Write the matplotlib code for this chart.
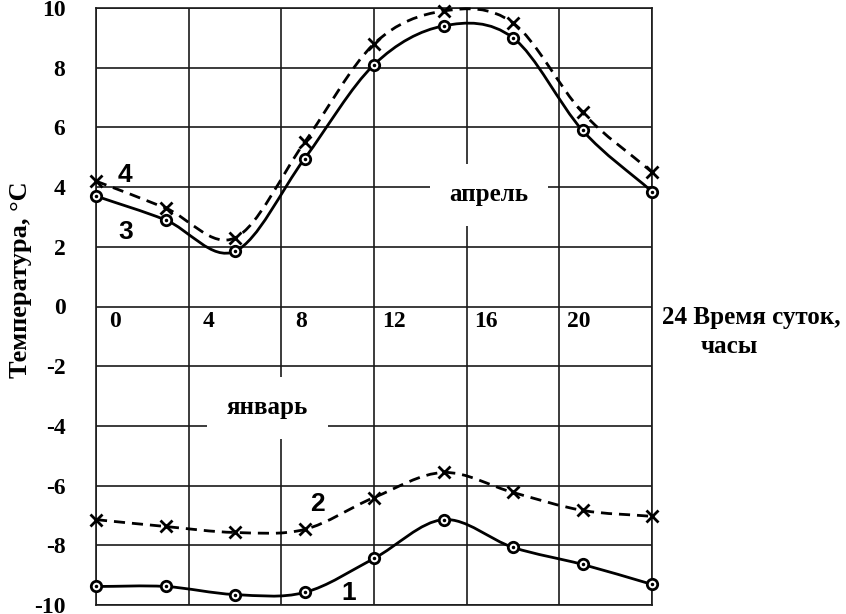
import matplotlib
matplotlib.use("Agg")
import matplotlib.pyplot as plt
import numpy as np
from matplotlib.path import Path
from matplotlib.patches import PathPatch

plt.rcParams['font.family'] = ['Liberation Serif', 'DejaVu Serif']
plt.rcParams['font.weight'] = 'bold'

# часы суток
hours = [0, 3, 6, 9, 12, 15, 18, 21, 24]
# январь
jan_1 = [-9.38, -9.38, -9.65, -9.58, -8.44, -7.14, -8.07, -8.64, -9.31]
jan_2 = [-7.14, -7.37, -7.57, -7.47, -6.40, -5.56, -6.23, -6.83, -7.03]
# апрель
apr_3 = [3.7, 2.9, 1.85, 4.95, 8.1, 9.4, 9.0, 5.9, 3.85]
apr_4 = [4.2, 3.3, 2.3, 5.5, 8.8, 9.9, 9.5, 6.5, 4.5]

x_ticks = [0, 4, 8, 12, 16, 20]
y_ticks = [10, 8, 6, 4, 2, 0, -2, -4, -6, -8, -10]


def smooth_path(xs, ys):
    # Catmull-Rom -> Bezier, чтобы кривая шла через точки
    p = np.column_stack([xs, ys]).astype(float)
    ext = np.vstack([p[0] * 2 - p[1], p, p[-1] * 2 - p[-2]])
    verts = [p[0]]
    codes = [Path.MOVETO]
    for i in range(1, len(ext) - 2):
        c1 = ext[i] + (ext[i + 1] - ext[i - 1]) / 6
        c2 = ext[i + 1] - (ext[i + 2] - ext[i]) / 6
        verts += [c1, c2, ext[i + 1]]
        codes += [Path.CURVE4] * 3
    return Path(verts, codes)


fig = plt.figure(figsize=(8.46, 6.14), dpi=100)
ax = fig.add_axes([96 / 846, 1 - 605 / 614, 556 / 846, 597 / 614])
ax.set_xlim(0, 24)
ax.set_ylim(-10, 10)

ax.set_xticks(range(0, 25, 4))
ax.set_yticks(y_ticks)
ax.set_xticklabels([])
ax.set_yticklabels([str(v) for v in y_ticks], fontsize=17, fontweight='bold')
ax.tick_params(length=0, axis='y', pad=22)
ax.tick_params(length=0, axis='x')
ax.grid(True, color='#1a1a1a', linewidth=1.2)
for s in ax.spines.values():
    s.set_color('#1a1a1a')
    s.set_linewidth(1.2)

for ys, dashed, mk in [(apr_4, True, 'x'), (apr_3, False, 'o'),
                       (jan_2, True, 'x'), (jan_1, False, 'o')]:
    ls = (0, (4, 2.5)) if dashed else '-'
    ax.add_patch(PathPatch(smooth_path(hours, ys), fill=False,
                           edgecolor='black', linewidth=2, linestyle=ls,
                           zorder=3, clip_on=False))
    if mk == 'x':
        ax.plot(hours, ys, 'x', color='black', ms=8, mew=2, zorder=4,
                clip_on=False)
    else:
        ax.plot(hours, ys, 'o', mfc='white', mec='black', ms=7.5, mew=2,
                zorder=4, clip_on=False)
        ax.plot(hours, ys, '.', color='black', ms=3, zorder=5, clip_on=False)

for xv in x_ticks:
    ax.annotate(str(xv), xy=(xv, 0), xytext=(14, -11), textcoords='offset points',
                ha='center', va='center', fontsize=17, fontweight='bold')
ax.annotate('24 Время суток,', xy=(24, 0), xytext=(7, -8), textcoords='offset points',
            ha='left', va='center', fontsize=18, fontweight='bold',
            annotation_clip=False)
ax.annotate('часы', xy=(24, 0), xytext=(56, -29), textcoords='offset points',
            ha='center', va='center', fontsize=18, fontweight='bold',
            annotation_clip=False)

box = dict(facecolor='white', edgecolor='none', pad=14)
ax.text(16.96, 3.75, 'апрель', ha='center', va='center', fontsize=18,
        fontweight='bold', bbox=box, zorder=2)
ax.text(7.4, -3.4, 'январь', ha='center', va='center', fontsize=18,
        fontweight='bold', bbox=box, zorder=2)

for lbl, xv, yv in [('4', 1.23, 4.39), ('3', 1.29, 2.51), ('2', 9.54, -6.63),
                    ('1', 10.9, -9.6)]:
    ax.text(xv, yv, lbl, ha='center', va='center', fontsize=19,
            fontweight='bold', family=['Liberation Sans', 'DejaVu Sans'],
            zorder=6)

fig.text(20 / 846, 1 - 280 / 614, 'Температура, °С', rotation=90,
         ha='center', va='center', fontsize=19, fontweight='bold')

fig.savefig('out.png', dpi=100)
